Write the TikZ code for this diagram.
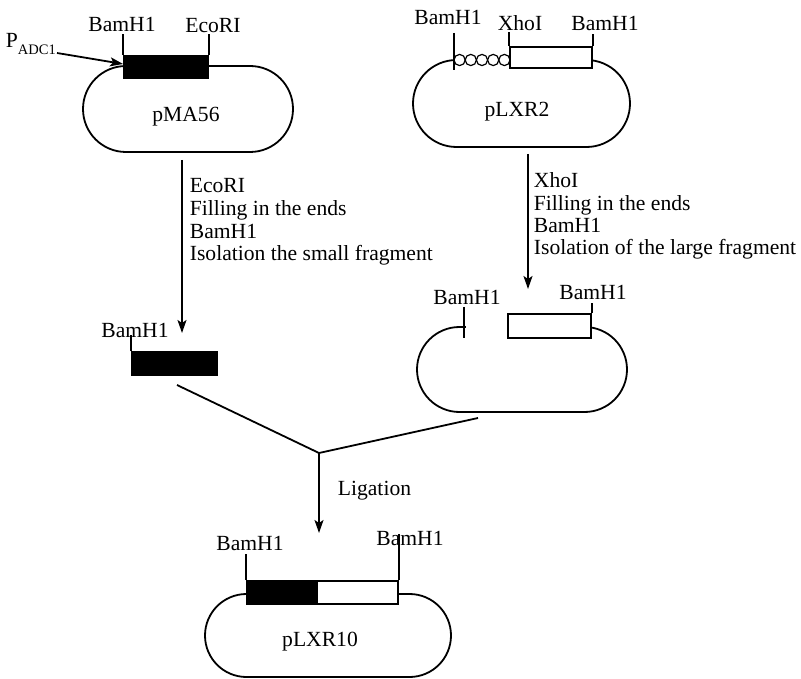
\documentclass[tikz,border=0pt]{standalone}
\usepackage{fontspec}
\setmainfont{Liberation Serif}
\usetikzlibrary{arrows.meta}
\begin{document}
\begin{tikzpicture}[x=1pt,y=-1pt, line width=1.8pt,
  plasmid/.style={draw, rounded corners=#1, inner sep=0pt},
  lbl/.style={font=\fontsize{21.6}{24}\selectfont, inner sep=0pt},
  steplbl/.style={lbl, anchor=base west},
  blackbox/.style={draw, fill=black, inner sep=0pt},
  whitebox/.style={draw, fill=white, inner sep=0pt},
  arr/.style={-{Stealth[length=13pt,width=9pt,inset=3pt]}},
  bead/.style={draw, fill=white, circle, inner sep=0pt, minimum size=11.2pt, line width=1.2pt}]
\fill[white] (0,0) rectangle (801,679);
\useasboundingbox (0,0) rectangle (801,679);

% ---------- pMA56 ----------
\node[plasmid=43pt, minimum width=210pt, minimum height=86pt] (pMA) at (188,109) {};
\node[blackbox, minimum width=84pt, minimum height=22pt] (ins1) at (166,67) {};
\draw (ins1.north west) -- ++(0,-21);
\draw (ins1.north east) -- ++(0,-21);
\node[lbl] (b1) at (122,24) {BamH1};
\node[lbl] (e1) at (213,26) {EcoRI};
\node[lbl] (pma) at (186,117) {pMA56};
\node[lbl, anchor=base west] (padc) at (5,48) {P\raisebox{-7pt}{\fontsize{14.5}{14.5}\selectfont ADC1}};
\coordinate (padcend) at (57,53);
\draw[arr] (padcend) -- ([yshift=3pt]ins1.west);

% ---------- pLXR2 ----------
\node[plasmid=43.5pt, minimum width=217pt, minimum height=87pt] (pLXR) at (521.5,103.5) {};
\foreach \i in {0,...,4} {
  \node[bead] (bd\i) at ({459.6+11.2*\i},60) {};
}
\node[whitebox, minimum width=82pt, minimum height=21pt] (ins2) at (551,57.5) {};
\draw (454,33) -- (454,70);
\draw (ins2.north west) -- ++(0,-14);
\draw (ins2.north east) -- ++(0,-12);
\node[lbl] (b2) at (448,17) {BamH1};
\node[lbl] (x2) at (520,23) {XhoI};
\node[lbl] (b3) at (605,23) {BamH1};
\node[lbl] (plxr) at (517,112) {pLXR2};

% ---------- step 1 ----------
\coordinate (a1s) at (182,160);
\coordinate (a1e) at (182,333);
\draw[arr] (a1s) -- (a1e);
\node[steplbl] (s11) at (189,193) {EcoRI};
\node[steplbl] (s12) at (189,215.7) {Filling in the ends};
\node[steplbl] (s13) at (189,238.3) {BamH1};
\node[steplbl] (s14) at (189,261) {Isolation the small fragment};

% ---------- step 2 ----------
\coordinate (a2s) at (528,154);
\coordinate (a2e) at (528,289);
\draw[arr] (a2s) -- (a2e);
\node[steplbl] (s21) at (533,188) {XhoI};
\node[steplbl] (s22) at (533,210.3) {Filling in the ends};
\node[steplbl] (s23) at (533,232.6) {BamH1};
\node[steplbl] (s24) at (533,255) {Isolation of the large fragment};

% ---------- small fragment ----------
\node[blackbox, minimum width=85pt, minimum height=23pt] (frag1) at (174.5,363.5) {};
\node[lbl] (fb1) at (135,330) {BamH1};
\draw (frag1.north west) -- ++(0,-16);

% ---------- large fragment ----------
\node[plasmid=42.5pt, minimum width=210pt, minimum height=85pt] (frag2) at (522,369.5) {};
\fill[white] (465.5,318) rectangle (507,336);
\node[whitebox, minimum width=83pt, minimum height=24pt] (ins3) at (549.5,326) {};
\draw (464,307) -- (464,338);
\draw (ins3.north east) -- ++(0,-10);
\node[lbl] (fb2) at (467,297) {BamH1};
\node[lbl] (fb3) at (593,292) {BamH1};

% ---------- ligation ----------
\coordinate (j1) at (177,385);
\coordinate (j2) at (478,418);
\coordinate (jm) at (319,453);
\coordinate (a3e) at (319,533);
\draw (j1) -- (jm) -- (j2);
\draw[arr] (jm) -- (a3e);
\node[steplbl] (lig) at (337,495) {Ligation};

% ---------- pLXR10 ----------
\node[plasmid=41.5pt, minimum width=246pt, minimum height=83pt] (pL10) at (328,635.5) {};
\node[blackbox, minimum width=70pt, minimum height=23pt] (ins4a) at (282,592.5) {};
\node[whitebox, minimum width=81pt, minimum height=23pt] (ins4b) at (357.5,592.5) {};
\draw (ins4a.north west) -- ++(0,-26);
\draw (ins4b.north east) -- ++(0,-46);
\node[lbl] (fb4) at (250,543) {BamH1};
\node[lbl] (fb5) at (410,538) {BamH1};
\node[lbl] (pl10) at (320,642) {pLXR10};
\end{tikzpicture}
\end{document}
